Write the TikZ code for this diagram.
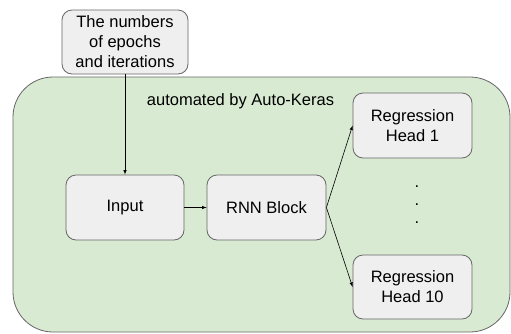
\documentclass[tikz,border=0pt]{standalone}
\usepackage{fontspec}
\setmainfont{Liberation Sans}
\usepackage{tikz}
\usetikzlibrary{arrows}
\definecolor{boxgray}{HTML}{EFEFEF}
\definecolor{boxline}{HTML}{666666}
\definecolor{areagreen}{HTML}{D9EAD3}
\tikzset{
  blk/.style = {align=center, inner sep=0pt, text centered,
    font=\fontsize{16.5}{20}\selectfont},
  blk_g/.style = {blk, rectangle, rounded corners=10pt, draw=boxline,
    fill=boxgray, line width=0.8pt},% bloc gris
  area_g/.style = {rectangle, rounded corners=40pt, draw=boxline,
    fill=areagreen, line width=0.8pt},% zone verte
  link/.style = {-latex, black, line width=0.6pt}
}
\begin{document}
\begin{tikzpicture}[x=1pt, y=-1pt]
	\useasboundingbox (0,0) rectangle (511,333);
	\node [area_g, minimum width=497pt, minimum height=255pt] (area) at (261.5,204.5) {};
	\node [blk] (auto) at (240.5,101) {automated by Auto-Keras};
	\node [blk_g, minimum width=126pt, minimum height=64pt] (epochs) at (125,42) {The numbers\\of epochs\\and iterations};
	\node [blk_g, minimum width=118pt, minimum height=65pt] (input) at (125,207.5) {Input};
	\node [blk_g, minimum width=119pt, minimum height=65pt] (rnn) at (266.5,207.5) {RNN Block};
	\node [blk_g, minimum width=119pt, minimum height=65pt] (head1) at (412.5,125.5) {Regression\\Head 1};
	\node [blk_g, minimum width=119pt, minimum height=64pt] (head10) at (412.5,287) {Regression\\Head 10};
	\node [blk, font=\fontsize{16.5}{18}\selectfont] (dots) at (417,205) {.\\.\\.};
	\draw [link] (epochs) -- (input);
	\draw [link] (input) -- (rnn);
	\draw [link] (rnn.east) -- (head1.west);
	\draw [link] (rnn.east) -- (head10.west);
\end{tikzpicture}
\end{document}
